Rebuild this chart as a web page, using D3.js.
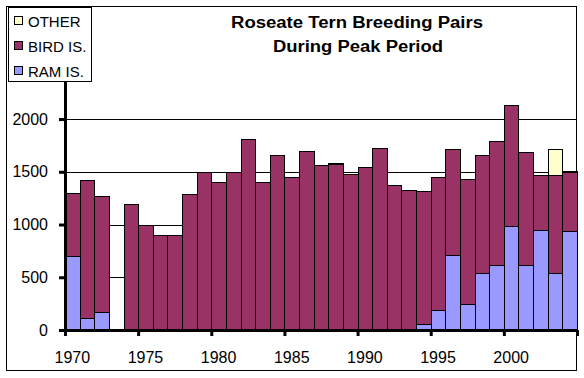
<!DOCTYPE html>
<html>
<head>
<meta charset="utf-8">
<script src="https://cdn.jsdelivr.net/npm/d3@7"></script>
<style>
	body{margin:0;background:#fff}
	svg{display:block}
	text{font-family:"Liberation Sans",Arial,sans-serif}
</style>
</head>
<body>
<svg id="chart" width="584" height="378"></svg>
<script>
// values
const years = d3.range(1970, 2005)
const ramIs = [700,110,170,0,0,0,0,0,0,0, 0,0,0,0,0,0,0,0,0,0, 0,0,0,0,60,190,710,250,540,620, 990,620,945,545,935]
const birdIs = [600,1310,1100,0,1190,1000,900,900,1285,1500, 1400,1500,1810,1400,1655,1450,1695,1560,1570,1475, 1550,1730,1370,1325,1255,1260,1010,1180,1115,1170, 1140,1065,520,920,560]
const other = [0,0,0,0,0,0,0,0,0,0, 0,0,0,0,0,0,0,0,10,0, 0,0,0,0,0,0,0,0,0,0, 0,0,0,250,10]
const yTicks = [0,500,1000,1500,2000]
const xTicks = [1970,1975,1980,1985,1990,1995,2000,2005]
const xLabels = [1970,1975,1980,1985,1990,1995,2000]
const series = ["RAM IS.","BIRD IS.","OTHER"]
const colors = {"RAM IS.":"#9999ff","BIRD IS.":"#993366","OTHER":"#ffffcc"}

const svg = d3.select("#chart")

// build table for the stack
const table = years.map((y,i)=>({year:y, "RAM IS.":ramIs[i], "BIRD IS.":birdIs[i], "OTHER":other[i]}))
const stacked = d3.stack().keys(series)(table)

const x = d3.scaleLinear().domain([1970,2005]).range([65,577])
const y = d3.scaleLinear().domain([0,2500]).range([330,66.3])

// outer frame
svg.append("rect")
	.attr("x",6.5).attr("y",6.5)
	.attr("width",570).attr("height",364)
	.attr("fill","none").attr("stroke","#000")

// gridlines
svg.append("g")
	.selectAll("line")
	.data(yTicks.filter(d=>d>0))
	.join("line")
	.attr("x1",x(1970)).attr("x2",x(2005))
	.attr("y1",d=>Math.round(y(d))+0.5).attr("y2",d=>Math.round(y(d))+0.5)
	.attr("stroke","#000")

// bars
svg.append("g")
	.selectAll("g")
	.data(stacked)
	.join("g")
	.attr("fill",d=>colors[d.key])
	.selectAll("rect")
	.data(d=>d.filter(p=>p[1]-p[0]>0))
	.join("rect")
	.attr("x",d=>Math.round(x(d.data.year))+0.5)
	.attr("width",d=>Math.round(x(d.data.year+1))-Math.round(x(d.data.year)))
	.attr("y",d=>Math.round(y(d[1]))+0.5)
	.attr("height",d=>Math.round(y(d[0]))-Math.round(y(d[1])))
	.attr("stroke","#000")
	.attr("shape-rendering","crispEdges")

// y axis
const yAxis = svg.append("g")
	.attr("transform","translate(65,0)")
	.call(d3.axisLeft(y).tickValues(yTicks).tickFormat(d3.format("d")).tickSize(6).tickPadding(11).tickSizeOuter(0))
yAxis.select(".domain").attr("stroke-width",3)
yAxis.selectAll(".tick line").attr("stroke-width",3)
yAxis.selectAll("text").attr("font-size",16).attr("fill","#000")
	.attr("font-family","Liberation Sans, Arial, sans-serif")

// x axis
const xAxis = svg.append("g")
	.attr("transform","translate(0,330)")
	.call(d3.axisBottom(x).tickValues(xTicks).tickSize(6).tickFormat("").tickSizeOuter(0))
xAxis.select(".domain").attr("stroke-width",3)
xAxis.selectAll(".tick line").attr("stroke-width",3)

svg.append("g")
	.selectAll("text")
	.data(xLabels)
	.join("text")
	.attr("x",d=>x(d+0.5))
	.attr("y",363)
	.attr("text-anchor","middle")
	.attr("font-size",16)
	.text(d=>d)

// title
const title = svg.append("g").attr("font-weight","bold").attr("font-size",16)
title.append("text")
	.attr("x",357).attr("y",28).attr("text-anchor","middle")
	.attr("textLength",252).attr("lengthAdjust","spacingAndGlyphs")
	.text("Roseate Tern Breeding Pairs")
title.append("text")
	.attr("x",358).attr("y",52).attr("text-anchor","middle")
	.attr("textLength",170).attr("lengthAdjust","spacingAndGlyphs")
	.text("During Peak Period")

// legend
const legend = svg.append("g")
legend.append("rect")
	.attr("x",8.5).attr("y",7.5)
	.attr("width",83).attr("height",74)
	.attr("fill","#fff").attr("stroke","#000")
const items = legend.selectAll("g")
	.data(series.slice().reverse())
	.join("g")
	.attr("transform",(d,i)=>`translate(0,${21+i*25})`)
items.append("rect")
	.attr("x",14.5).attr("y",-4.5)
	.attr("width",8).attr("height",8)
	.attr("fill",d=>colors[d]).attr("stroke","#000")
items.append("text")
	.attr("x",28).attr("y",5.5)
	.attr("font-size",15)
	.text(d=>d)
</script>
</body>
</html>
